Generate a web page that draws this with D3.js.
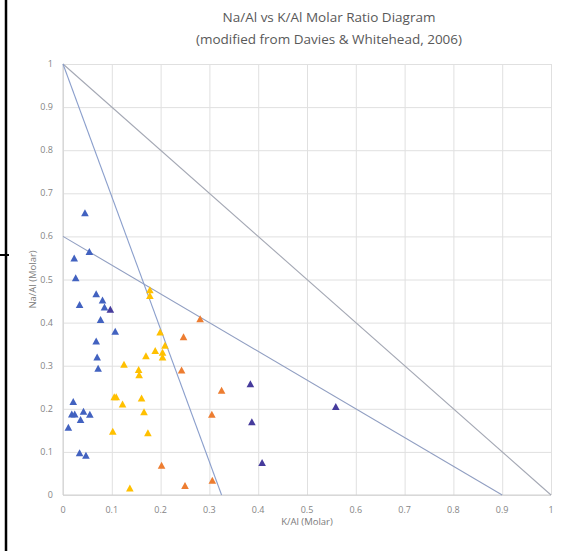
<!DOCTYPE html>
<html>
<head>
<meta charset="utf-8">
<script src="https://cdn.jsdelivr.net/npm/d3@7"></script>
<style>
  body { margin: 0; background: #fff; }
  svg { display: block; }
</style>
</head>
<body>
<div id="chart"></div>
<script>
// data (K/Al, Na/Al molar)
const blueK  = [0.045, 0.054, 0.023, 0.026, 0.068, 0.034, 0.081, 0.085, 0.077, 0.107, 0.068, 0.070, 0.072, 0.021, 0.018, 0.024, 0.042, 0.055, 0.036, 0.011, 0.034, 0.047];
const blueNa = [0.654, 0.564, 0.549, 0.503, 0.466, 0.441, 0.451, 0.435, 0.406, 0.379, 0.356, 0.319, 0.293, 0.216, 0.187, 0.187, 0.193, 0.186, 0.174, 0.156, 0.097, 0.091];

const purpleK  = [0.097, 0.384, 0.387, 0.408, 0.559];
const purpleNa = [0.430, 0.257, 0.169, 0.074, 0.204];

const yellowK  = [0.178, 0.178, 0.199, 0.209, 0.189, 0.204, 0.204, 0.170, 0.125, 0.155, 0.156, 0.105, 0.109, 0.122, 0.161, 0.166, 0.102, 0.174, 0.137];
const yellowNa = [0.475, 0.462, 0.377, 0.346, 0.334, 0.330, 0.319, 0.322, 0.302, 0.290, 0.278, 0.227, 0.227, 0.210, 0.224, 0.192, 0.147, 0.143, 0.015];

const orangeK  = [0.281, 0.247, 0.243, 0.325, 0.305, 0.202, 0.250, 0.306];
const orangeNa = [0.408, 0.366, 0.289, 0.242, 0.186, 0.068, 0.021, 0.033];

// boundary lines of the diagram
const lineFull   = [[0, 1], [1, 0]];
const lineSteep  = [[0, 1], [0.325, 0]];
const lineLower  = [[0, 0.6], [0.9, 0]];

const xTicks = [0, 0.1, 0.2, 0.3, 0.4, 0.5, 0.6, 0.7, 0.8, 0.9, 1];
const yTicks = [0, 0.1, 0.2, 0.3, 0.4, 0.5, 0.6, 0.7, 0.8, 0.9, 1];

const titleLines = ["Na/Al vs K/Al Molar Ratio Diagram", "(modified from Davies & Whitehead, 2006)"];

const W = 573, H = 551;
const plot = { left: 63, right: 551, top: 64, bottom: 495 };
const font = "'Open Sans', sans-serif";

const svg = d3.select('#chart').append('svg')
  .attr('width', W)
  .attr('height', H);

const x = d3.scaleLinear().domain([0, 1]).range([plot.left, plot.right]);
const y = d3.scaleLinear().domain([0, 1]).range([plot.bottom, plot.top]);

// gridlines
svg.append('g')
  .attr('transform', `translate(0,${plot.bottom})`)
  .call(d3.axisBottom(x).tickValues(xTicks).tickSize(-(plot.bottom - plot.top)).tickFormat(''))
  .call(g => g.select('.domain').remove())
  .selectAll('line').attr('stroke', '#e0e0e0').attr('stroke-width', 1);

svg.append('g')
  .attr('transform', `translate(${plot.left},0)`)
  .call(d3.axisLeft(y).tickValues(yTicks).tickSize(-(plot.right - plot.left)).tickFormat(''))
  .call(g => g.select('.domain').remove())
  .selectAll('line').attr('stroke', '#e0e0e0').attr('stroke-width', 1);

// axis lines at 0
svg.append('line')
  .attr('x1', x(0)).attr('x2', x(0)).attr('y1', y(0)).attr('y2', y(1))
  .attr('stroke', '#d0d0d0');
svg.append('line')
  .attr('x1', x(0)).attr('x2', x(1)).attr('y1', y(0)).attr('y2', y(0))
  .attr('stroke', '#d0d0d0');

// tick labels
svg.append('g')
  .selectAll('text')
  .data(xTicks)
  .join('text')
  .attr('x', d => x(d))
  .attr('y', plot.bottom + 18)
  .attr('text-anchor', 'middle')
  .attr('font-family', font)
  .attr('font-size', 9)
  .attr('fill', '#858585')
  .text(d => d3.format('')(d));

svg.append('g')
  .selectAll('text')
  .data(yTicks)
  .join('text')
  .attr('x', plot.left - 10)
  .attr('y', d => y(d) + 3)
  .attr('text-anchor', 'end')
  .attr('font-family', font)
  .attr('font-size', 9)
  .attr('fill', '#858585')
  .text(d => d3.format('')(d));

// axis titles
svg.append('text')
  .attr('x', (plot.left + plot.right) / 2)
  .attr('y', plot.bottom + 30)
  .attr('text-anchor', 'middle')
  .attr('font-family', font)
  .attr('font-size', 9.5)
  .attr('fill', '#7a7a7a')
  .text('K/Al (Molar)');

svg.append('text')
  .attr('transform', `translate(36,${(plot.top + plot.bottom) / 2}) rotate(-90)`)
  .attr('text-anchor', 'middle')
  .attr('font-family', font)
  .attr('font-size', 9.5)
  .attr('fill', '#7a7a7a')
  .text('Na/Al (Molar)');

// chart title
svg.append('g')
  .selectAll('text')
  .data(titleLines)
  .join('text')
  .attr('x', 329)
  .attr('y', (d, i) => 22 + i * 22)
  .attr('text-anchor', 'middle')
  .attr('font-family', font)
  .attr('font-size', 13.5)
  .attr('fill', '#595959')
  .text(d => d);

// boundary lines
const line = d3.line().x(d => x(d[0])).y(d => y(d[1]));
svg.append('path').datum(lineFull).attr('d', line)
  .attr('fill', 'none').attr('stroke', '#a4a8b4').attr('stroke-width', 1.1);
svg.append('path').datum(lineLower).attr('d', line)
  .attr('fill', 'none').attr('stroke', '#919fc2').attr('stroke-width', 1.1);
svg.append('path').datum(lineSteep).attr('d', line)
  .attr('fill', 'none').attr('stroke', '#8b9fcc').attr('stroke-width', 1.1);

// triangle markers
const tri = 'M0,-4L3.8,3L-3.8,3Z';
function drawSeries(ks, nas, color) {
  svg.append('g')
    .selectAll('path')
    .data(ks.map((k, i) => [k, nas[i]]))
    .join('path')
    .attr('d', tri)
    .attr('transform', d => `translate(${x(d[0])},${y(d[1])})`)
    .attr('fill', color);
}
drawSeries(blueK, blueNa, '#4262c0');
drawSeries(purpleK, purpleNa, '#463b9c');
drawSeries(yellowK, yellowNa, '#ffc000');
drawSeries(orangeK, orangeNa, '#ed7d31');

// black frame remnants at the left edge of the screenshot
svg.append('line')
  .attr('x1', 6).attr('x2', 6).attr('y1', 0).attr('y2', H)
  .attr('stroke', '#000').attr('stroke-width', 2.5);
svg.append('line')
  .attr('x1', 0).attr('x2', 9).attr('y1', 255).attr('y2', 255)
  .attr('stroke', '#000').attr('stroke-width', 2);
</script>
</body>
</html>
